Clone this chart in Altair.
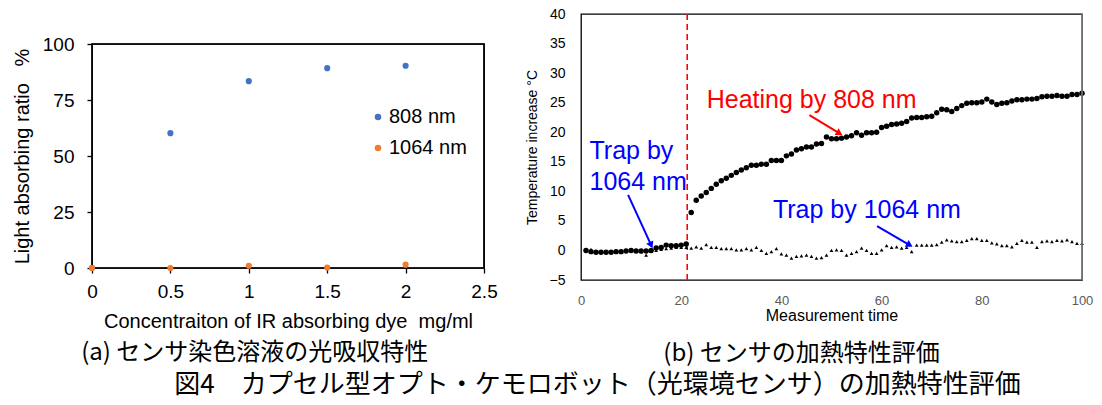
import altair as alt
import pandas as pd

FONT = "Liberation Sans"
CJK = "Noto Sans CJK JP"

# ---------------- (a) light absorbing ratio ----------------
conc = [0, 0.5, 1.0, 1.5, 2.0]
abs_808 = [0.0, 60.2, 83.4, 89.2, 90.3]
abs_1064 = [0.0, 0.0, 1.0, 0.2, 1.5]
wl_names = ["808 nm", "1064 nm"]
wl_colors = ["#4472C4", "#ED7D31"]
x_dom_a = [0, 2.5]
y_dom_a = [0, 100]
x_ticks_a = [0, 0.5, 1, 1.5, 2, 2.5]
y_ticks_a = [0, 25, 50, 75, 100]

# ---------------- (b) heating characteristic ----------------
times = list(range(1, 101))
heating = [
    0.0, -0.2, -0.3, -0.3, -0.3, -0.3, -0.2, -0.2, -0.1, 0.0,
    -0.1, -0.1, -0.1, 0.0, 0.4, 0.5, 0.9, 0.8, 0.8, 0.9,
    1.1, 6.4, 8.5, 9.2, 9.8, 10.5, 11.2, 11.8, 12.2, 12.7,
    13.2, 13.6, 14.0, 14.4, 14.4, 14.6, 14.6, 15.2, 15.2, 15.2,
    16.0, 16.3, 17.0, 17.2, 17.5, 17.5, 18.0, 18.1, 19.2, 18.9,
    18.9, 19.0, 19.2, 19.4, 19.9, 19.5, 19.9, 19.9, 20.0, 20.8,
    21.0, 21.3, 21.4, 21.5, 21.8, 22.4, 22.5, 22.5, 22.6, 22.7,
    23.3, 23.9, 23.8, 23.5, 24.0, 24.5, 24.9, 25.0, 25.0, 25.1,
    25.6, 25.1, 24.7, 24.9, 25.0, 25.3, 25.5, 25.5, 25.6, 25.6,
    25.7, 26.0, 26.1, 26.1, 26.2, 26.1, 26.1, 26.4, 26.4, 26.6,
]
trap = [
    0.0, 0.2, -0.2, -0.3, -0.2, -0.2, -0.2, -0.1, -0.1, 0.0,
    -0.1, -0.2, -0.8, -0.1, 0.0, 0.2, 0.3, 0.4, 0.5, 0.5,
    0.5, 0.4, 0.6, 0.4, 1.0, 0.5, 0.5, 0.3, 0.3, 0.3,
    0.1, 0.1, 0.3, 0.1, 0.5, 0.0, -0.5, -0.2, 0.3, -0.6,
    -0.8, -1.3, -1.0, -0.9, -0.8, -1.0, -1.3, -1.2, -0.8, 0.0,
    0.1, 0.0, -0.8, -0.5, -0.2, 0.4, 0.0, -0.5, -0.5, 0.1,
    0.8, 0.5, 0.6, 0.4, 0.5, -0.2, 0.9, 0.9, 0.9, 0.9,
    1.0, 1.4, 1.8, 1.6, 1.5, 1.5, 1.7, 2.0, 2.0, 1.7,
    1.7, 1.3, 1.1, 0.8, 0.8, 0.6, 1.2, 1.7, 1.4, 1.4,
    0.5, 1.5, 1.6, 1.5, 1.7, 1.6, 1.8, 1.5, 1.2, 1.2,
]
x_ticks_b = [0, 20, 40, 60, 80, 100]
y_ticks_b = [-5, 0, 5, 10, 15, 20, 25, 30, 35, 40]
laser_on = [21.2]
right_edge = [100]

ann_t = [25.1, 1.7, 1.7, 38.3]
ann_v = [24.1, 15.5, 10.2, 5.5]
ann_txt = ["Heating by 808 nm", "Trap by", "1064 nm", "Trap by 1064 nm"]
ann_col = ["#FF0000", "#0000FF", "#0000FF", "#0000FF"]

arr_t0 = [45.6, 9.4, 59.1]
arr_v0 = [22.9, 9.4, 4.1]
arr_t1 = [51.6, 14.0, 65.6]
arr_v1 = [19.8, 0.9, 0.9]
arr_ang = [121, 155, 120]
arr_col = ["#FF0000", "#0000FF", "#0000FF"]

cap_a = "(a) センサ染色溶液の光吸収特性"
cap_b = "(b) センサの加熱特性評価"
cap_main = "図4　カプセル型オプト・ケモロボット（光環境センサ）の加熱特性評価"

# ================= chart (a) =================
df_a = pd.DataFrame({
    "conc": conc + conc,
    "ratio": abs_808 + abs_1064,
    "wl": [wl_names[0]] * len(conc) + [wl_names[1]] * len(conc),
})

def XA(field):
    return alt.X(field, type="quantitative",
                 scale=alt.Scale(domain=x_dom_a, nice=False, zero=False),
                 axis=alt.Axis(values=x_ticks_a, format="~g", labelFlush=False,
                               title="Concentraiton of IR absorbing dye\u00a0\u00a0mg/ml",
                               labelFontSize=19, titleFontSize=20, labelPadding=9,
                               titlePadding=10, tickSize=5, tickWidth=1.3, tickColor="black",
                               labelColor="black", titleColor="black", domain=False,
                               grid=False, labelFont=FONT, titleFont=FONT,
                               titleFontWeight="normal"))

def YA(field):
    return alt.Y(field, type="quantitative", scale=alt.Scale(domain=y_dom_a, nice=False),
                 axis=alt.Axis(values=y_ticks_a, title="Light absorbing ratio\u00a0\u00a0\u00a0%",
                               labelFontSize=19, titleFontSize=20, labelPadding=13,
                               titlePadding=10, tickSize=5, tickWidth=1.3, tickColor="black",
                               labelColor="black", titleColor="black", domain=False,
                               grid=False, labelFont=FONT, titleFont=FONT,
                               titleFontWeight="normal"))

pts_a = alt.Chart(df_a).mark_circle(size=38, opacity=1).encode(
    x=XA("conc"), y=YA("ratio"),
    color=alt.Color("wl:N", scale=alt.Scale(domain=wl_names, range=wl_colors),
                    legend=alt.Legend(title=None, orient="none", legendX=276, legendY=63,
                                      labelFontSize=20, labelFont=FONT, labelColor="black",
                                      symbolType="circle", symbolSize=42, rowPadding=11,
                                      labelOffset=1, symbolStrokeWidth=0)),
)

frame_a = alt.Chart(pd.DataFrame({"x0": [x_dom_a[0]], "x1": [x_dom_a[1]],
                                  "y0": [y_dom_a[0]], "y1": [y_dom_a[1]]})).mark_rect(
    fillOpacity=0, stroke="#000000", strokeOpacity=1, strokeWidth=1.6).encode(
    x=XA("x0"), x2="x1:Q", y=YA("y0"), y2="y1:Q")

chart_a = alt.layer(frame_a, pts_a).properties(width=392, height=224)

# zero-size cell: only pushes panel (a) down inside its column
spacer = alt.Chart(pd.DataFrame({"s": [0]})).mark_point(opacity=0, size=0).properties(
    width=0, height=0)

left_wrap = alt.vconcat(
    spacer, chart_a, spacing=0,
    title=alt.TitleParams(text=cap_a, orient="bottom", anchor="middle", font=CJK,
                          fontSize=24, fontWeight="normal", color="black", offset=9),
).resolve_scale(color="independent").resolve_legend(color="independent")

# ================= chart (b) =================
df_b = pd.DataFrame({"t": times, "heat": heating, "trap": trap})

def XB(field):
    return alt.X(field, type="quantitative", scale=alt.Scale(domain=[0, 100], nice=False),
                 axis=alt.Axis(values=x_ticks_b, title="Measurement time", ticks=False,
                               labelFontSize=13, labelColor="#595959", labelPadding=14,
                               labelFlush=False, titleFontSize=16, titlePadding=0,
                               titleColor="black", titleFontWeight="normal",
                               labelFont=FONT, titleFont=FONT, domain=False, grid=False))

def YB(field):
    return alt.Y(field, type="quantitative", scale=alt.Scale(domain=[-5, 40], nice=False),
                 axis=alt.Axis(values=y_ticks_b, title="Temperature increase °C", ticks=False,
                               labelFontSize=14, labelColor="black", labelPadding=16,
                               titleFontSize=14, titlePadding=10, titleColor="black",
                               titleFontWeight="normal", labelFont=FONT, titleFont=FONT,
                               domain=False, grid=False))

base_b = alt.Chart(df_b)
trap_pts = base_b.mark_point(shape="triangle-up", filled=True, size=14, color="black",
                             opacity=1).encode(x=XB("t"), y=YB("trap"))
heat_pts = base_b.mark_circle(size=30, color="black", opacity=1).encode(
    x=XB("t"), y=YB("heat"))

vline = alt.Chart(pd.DataFrame({"t": laser_on})).mark_rule(
    color="#FF0000", strokeDash=[6, 4], strokeWidth=1.6).encode(x=XB("t"))
redge = alt.Chart(pd.DataFrame({"t": right_edge})).mark_rule(
    color="#808080", strokeWidth=1.6).encode(x=XB("t"))

df_ann = pd.DataFrame({"t": ann_t, "v": ann_v, "txt": ann_txt, "col": ann_col})
texts = alt.Chart(df_ann).mark_text(align="left", baseline="alphabetic", font=FONT,
                                    fontSize=25).encode(
    x=XB("t"), y=YB("v"), text="txt:N", color=alt.Color("col:N", scale=None))

df_arr = pd.DataFrame({"t0": arr_t0, "v0": arr_v0, "t1": arr_t1, "v1": arr_v1,
                       "ang": arr_ang, "col": arr_col})
arr_lines = alt.Chart(df_arr).mark_rule(strokeWidth=2).encode(
    x=XB("t0"), y=YB("v0"), x2="t1:Q", y2="v1:Q", color=alt.Color("col:N", scale=None))
arr_heads = alt.Chart(df_arr).mark_point(shape="triangle-up", filled=True, size=60,
                                         opacity=1).encode(
    x=XB("t1"), y=YB("v1"), angle=alt.Angle("ang:Q", scale=None),
    color=alt.Color("col:N", scale=None))

chart_b = alt.layer(vline, trap_pts, heat_pts, redge, arr_lines, arr_heads, texts).properties(
    width=501, height=266,
    title=alt.TitleParams(text=cap_b, orient="bottom", anchor="middle", font=CJK,
                          fontSize=24, fontWeight="normal", color="black", offset=19, dx=-30),
)

chart = alt.hconcat(
    left_wrap, chart_b, spacing=26,
    title=alt.TitleParams(text=cap_main, orient="bottom", anchor="middle", font=CJK,
                          fontSize=26, fontWeight="normal", color="black", offset=5, dx=45),
).properties(
    padding={"left": 11, "top": 6, "right": 0, "bottom": 4},
    background="white",
).configure_view(stroke="black", strokeWidth=1.3)

chart.save("out.html", embed_options={"renderer": "svg", "actions": False})
